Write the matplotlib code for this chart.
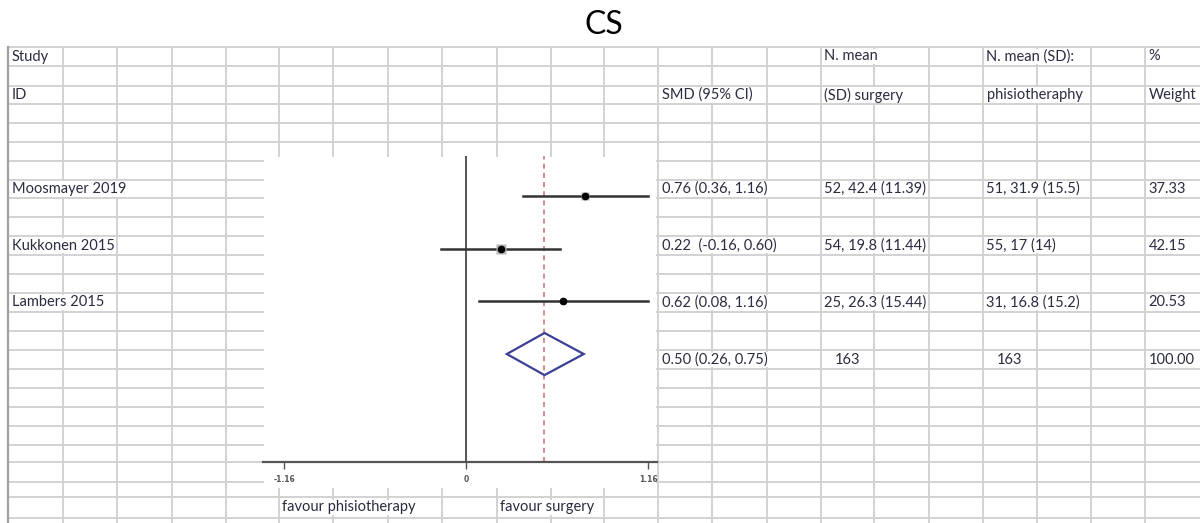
import matplotlib
matplotlib.use("Agg")
import matplotlib.pyplot as plt
from matplotlib.patches import Polygon

# ---- data ----
studies = ["Moosmayer 2019", "Kukkonen 2015", "Lambers 2015"]
smd = [0.76, 0.22, 0.62]
ci_low = [0.36, -0.16, 0.08]
ci_high = [1.16, 0.60, 1.16]
ci_gap = [" ", "  ", " "]
weights = [37.33, 42.15, 20.53]
n_surg = [52, 54, 25]
mean_surg = [42.4, 19.8, 26.3]
sd_surg = [11.39, 11.44, 15.44]
n_phys = [51, 55, 31]
mean_phys = [31.9, 17, 16.8]
sd_phys = [15.5, 14, 15.2]
pooled, pooled_low, pooled_high = 0.50, 0.26, 0.75
total_n = [163, 163]
total_weight = 100.00
xtick_vals = [-1.16, 0, 1.16]
xtick_labels = ["-1.16", "0", "1.16"]

W, H = 1202, 523
FONT = ["Lato", "DejaVu Sans"]
TXT = "#2a2c40"
GRID = "#d2d2d2"

fig = plt.figure(figsize=(W / 100, H / 100), dpi=100)
bg = fig.add_axes([0, 0, 1, 1])
bg.set_xlim(0, W)
bg.set_ylim(H, 0)
bg.axis("off")

# spreadsheet grid (pixel coords)
rows = [47, 66, 86, 104, 123, 142, 161, 180, 198, 217, 236, 255, 274, 293,
        312, 331, 350, 369, 388, 407, 426, 445, 462, 482, 497, 518, 523]
cols = [8, 63, 117, 172, 226, 279, 333, 388, 442, 497, 551, 604, 658, 712,
        767, 821, 874, 929, 983, 1037, 1091, 1145, 1202]
px_l, px_r, px_t, px_b = 263, 657, 156, 489   # white plot panel

for y in rows[:-1]:
    if px_t < y < px_b:
        bg.plot([cols[0], px_l], [y, y], color=GRID, lw=1.4, zorder=4)
        bg.plot([px_r, 1199], [y, y], color=GRID, lw=1.4, zorder=4)
    else:
        bg.plot([cols[0], 1199], [y, y], color=GRID, lw=1.4, zorder=4)
for x in cols[1:-1]:
    if px_l < x < px_r:
        bg.plot([x, x], [rows[0], px_t], color=GRID, lw=1.4, zorder=1)
        bg.plot([x, x], [px_b, H], color=GRID, lw=1.4, zorder=1)
    else:
        bg.plot([x, x], [rows[0], H], color=GRID, lw=1.4, zorder=1)
bg.plot([cols[0], cols[0]], [rows[0], H], color="#a0a0a0", lw=1.6, zorder=4)


def cell(c, r, s, ha="left"):
    y = (rows[r] + rows[r + 1]) / 2
    if ha == "left":
        x = cols[c] + 3.5
    else:
        x = (cols[c] + cols[c + 1]) / 2
    bg.text(x, y, s, ha=ha, va="center", fontsize=10.5, color=TXT,
            family=FONT, zorder=3,
            bbox=dict(facecolor="white", edgecolor="none", pad=0.5))


bg.text(604, 25, "CS", ha="center", va="center", fontsize=23,
        color="black", family=FONT)

# header
cell(0, 0, "Study")
cell(0, 2, "ID")
cell(12, 2, "SMD (95% CI)")
cell(15, 0, "N. mean")
cell(15, 2, "(SD) surgery")
cell(18, 0, "N. mean (SD):")
cell(18, 2, "phisiotheraphy")
cell(21, 0, "%")
cell(21, 2, "Weight")

study_rows = [7, 10, 13]
for i, r in enumerate(study_rows):
    cell(0, r, studies[i])
    cell(12, r, f"{smd[i]:.2f}{ci_gap[i]}({ci_low[i]:.2f}, {ci_high[i]:.2f})")
    cell(15, r, f"{n_surg[i]}, {mean_surg[i]:g} ({sd_surg[i]:g})")
    cell(18, r, f"{n_phys[i]}, {mean_phys[i]:g} ({sd_phys[i]:g})")
    cell(21, r, f"{weights[i]:.2f}")
cell(12, 16, f"{pooled:.2f} ({pooled_low:.2f}, {pooled_high:.2f})")
cell(15, 16, str(total_n[0]), ha="center")
cell(18, 16, str(total_n[1]), ha="center")
cell(21, 16, f"{total_weight:.2f}")
cell(5, 24, "favour phisiotherapy")
cell(9, 24, "favour surgery")

# ---- forest plot ----
ax_bottom = 462
ax = fig.add_axes([px_l / W, 1 - ax_bottom / H, (px_r - px_l) / W,
                   (ax_bottom - px_t) / H])
ax.patch.set_alpha(0)
ax.set_xlim(-1.294, 1.217)
ax.set_ylim(5.05, -0.76)
for s in ["top", "left", "right"]:
    ax.spines[s].set_visible(False)
ax.spines["bottom"].set_color("#555555")
ax.spines["bottom"].set_linewidth(1.6)
ax.set_yticks([])
ax.set_xticks(xtick_vals)
ax.set_xticklabels(xtick_labels, fontweight="bold")
ax.tick_params(axis="x", direction="out", length=5, width=1, color="#555555",
               labelsize=5.5, labelcolor="#555555", pad=4)

ax.axvline(0, color="#555555", lw=1.4, zorder=1)
ax.axvline(pooled, color="#cc7a7a", lw=1.2, ls=(0, (3, 2.5)), zorder=1)

for i in range(len(studies)):
    ax.plot([ci_low[i], ci_high[i]], [i, i], color="#333333", lw=1.8, zorder=2)
    ax.plot(smd[i], i, "s", ms=weights[i] ** 0.5, color="#b5b5b5",
            mec="none", zorder=3)
    ax.plot(smd[i], i, "o", ms=4.5, color="black", zorder=4)

yd = len(studies)
dia = Polygon([(pooled_low, yd), (pooled, yd - 0.4), (pooled_high, yd),
               (pooled, yd + 0.4)], closed=True, fill=False,
              edgecolor="#3b3f96", lw=1.6, zorder=3)
ax.add_patch(dia)

fig.savefig("out.png", dpi=100)
